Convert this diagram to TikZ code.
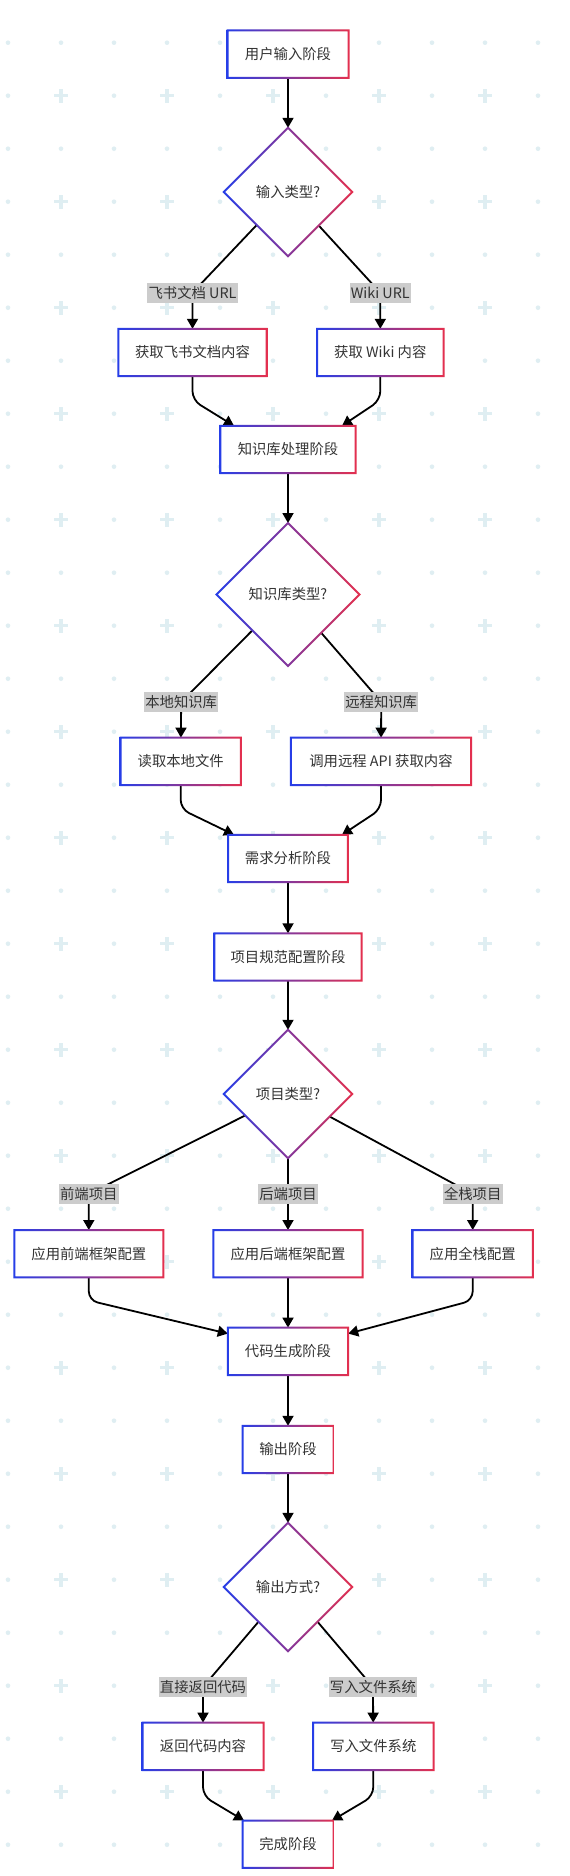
\documentclass[tikz,border=0pt]{standalone}
\usepackage{fontspec}
\setmainfont{Noto Sans CJK SC}
\usetikzlibrary{arrows.meta,shapes.geometric}
\definecolor{gbl}{RGB}{38,62,232}
\definecolor{gbr}{RGB}{228,48,78}
\definecolor{pat}{RGB}{223,238,242}
\definecolor{txt}{RGB}{51,51,51}
\definecolor{lbl}{RGB}{204,204,204}
\pgfdeclarelayer{patlayer}
\pgfdeclarelayer{edgelayer}
\pgfsetlayers{patlayer,edgelayer,main}
\tikzset{
 base/.style={font=\fontsize{14.35}{17}\selectfont, text=txt, text height=12.6pt, text depth=1.7pt},
 stage/.style={base, rectangle, fill=white, minimum height=47pt, inner xsep=8pt, inner ysep=0pt},
 decision/.style={base, diamond, fill=white, inner sep=0pt, minimum size=128pt},
 elabel/.style={base, fill=lbl, inner xsep=1.2pt, inner ysep=0pt, minimum height=20pt},
 arr/.style={line width=1.8pt, draw=black, -{Triangle[length=10pt,width=11pt]}},
 merge/.style={arr, rounded corners=9pt},
}
\newcommand\gradbox[1]{%
  \shade[left color=gbl, right color=gbr, even odd rule]
    ([shift={(-1pt,-1pt)}]#1.south west) rectangle ([shift={(1pt,1pt)}]#1.north east)
    ([shift={(1pt,1pt)}]#1.south west) rectangle ([shift={(-1pt,-1pt)}]#1.north east);}
\newcommand\graddia[1]{%
  \shade[left color=gbl, right color=gbr, even odd rule]
    ([yshift=1.4pt]#1.north) -- ([xshift=1.4pt]#1.east) -- ([yshift=-1.4pt]#1.south) -- ([xshift=-1.4pt]#1.west) -- cycle
    ([yshift=-1.4pt]#1.north) -- ([xshift=-1.4pt]#1.east) -- ([yshift=1.4pt]#1.south) -- ([xshift=1.4pt]#1.west) -- cycle;}
\begin{document}
\begin{tikzpicture}[x=1pt,y=-1pt]
\useasboundingbox (0,0) rectangle (570,1876);
\begin{pgfonlayer}{patlayer}
\fill[white] (0,0) rectangle (570,1876);
\foreach \i in {0,...,10}{
  \foreach \j in {0,...,34}{
    \pgfmathsetmacro\px{8+53*\i}
    \pgfmathsetmacro\py{42.7+53*\j}
    \pgfmathtruncatemacro\odd{mod(\i,2)*mod(\j,2)}
    \ifnum\odd=1
      \fill[pat] (\px-7,\py-1.7) rectangle (\px+7,\py+1.7);
      \fill[pat] (\px-1.7,\py-7) rectangle (\px+1.7,\py+7);
    \else
      \fill[pat] (\px,\py) circle[radius=2.3pt];
    \fi
  }
}
\end{pgfonlayer}

\node[stage, minimum width=120.6pt] (n1) at (288,54.2) {用户输入阶段};
\node[decision] (d1) at (288,192) {输入类型?};
\node[elabel] (l1) at (192.5,292.7) {飞书文档 URL};
\node[elabel] (l2) at (380.3,292.7) {Wiki URL};
\node[stage, minimum width=148pt] (b1) at (192.5,352.5) {获取飞书文档内容};
\node[stage, minimum width=126pt] (b2) at (380.3,352.5) {获取 Wiki 内容};
\node[stage, minimum width=134.7pt] (n2) at (288,449.5) {知识库处理阶段};
\node[decision, minimum size=142.5pt] (d2) at (288,594.5) {知识库类型?};
\node[elabel] (l3) at (181.2,702) {本地知识库};
\node[elabel] (l4) at (381.2,702) {远程知识库};
\node[stage, minimum width=120pt] (b3) at (180.7,761.3) {读取本地文件};
\node[stage, minimum width=180pt] (b4) at (381,761.3) {调用远程 API 获取内容};
\node[stage, minimum width=119.4pt] (n3) at (288,858.5) {需求分析阶段};
\node[stage, minimum width=147pt] (n4) at (288,957) {项目规范配置阶段};
\node[decision] (d3) at (288,1094) {项目类型?};
\node[elabel] (l5) at (88.8,1194) {前端项目};
\node[elabel] (l6) at (288,1194) {后端项目};
\node[elabel] (l7) at (472.7,1194) {全栈项目};
\node[stage, minimum width=148.5pt] (b5) at (88.8,1253.7) {应用前端框架配置};
\node[stage, minimum width=148.7pt] (b6) at (288,1253.7) {应用后端框架配置};
\node[stage, minimum width=120pt] (b7) at (472.7,1253.7) {应用全栈配置};
\node[stage, minimum width=120pt] (n5) at (288,1351.3) {代码生成阶段};
\node[stage, minimum width=90.6pt] (n6) at (288,1449.5) {输出阶段};
\node[decision] (d4) at (288,1587) {输出方式?};
\node[elabel] (l8) at (203,1687) {直接返回代码};
\node[elabel] (l9) at (373,1687) {写入文件系统};
\node[stage, minimum width=120.6pt] (b8) at (203,1746.3) {返回代码内容};
\node[stage, minimum width=120pt] (b9) at (373.3,1746.3) {写入文件系统};
\node[stage, minimum width=90.6pt] (n7) at (288,1844.2) {完成阶段};

\foreach \b in {n1,b1,b2,n2,b3,b4,n3,n4,b5,b6,b7,n5,n6,b8,b9,n7}{\gradbox{\b}}
\foreach \d in {d1,d2,d3,d4}{\graddia{\d}}

\begin{pgfonlayer}{edgelayer}
\draw[arr] (n1) -- (d1);
\draw[arr] (d1) -- (l1.center) -- (b1);
\draw[arr] (d1) -- (l2.center) -- (b2);
\draw[merge] (b1.south) -- ++(0,24) -- ([xshift=-54pt]n2.north);
\draw[merge] (b2.south) -- ++(0,24) -- ([xshift=54pt]n2.north);
\draw[arr] (n2) -- (d2);
\draw[arr] (d2) -- (l3.center) -- (b3);
\draw[arr] (d2) -- (l4.center) -- (b4);
\draw[merge] (b3.south) -- ++(0,24) -- ([xshift=-54pt]n3.north);
\draw[merge] (b4.south) -- ++(0,24) -- ([xshift=54pt]n3.north);
\draw[arr] (n3) -- (n4);
\draw[arr] (n4) -- (d3);
\draw[arr] (d3) -- (l5.center) -- (b5);
\draw[arr] (d3) -- (l6.center) -- (b6);
\draw[arr] (d3) -- (l7.center) -- (b7);
\draw[merge] (b5.south) -- ++(0,23) -- ([yshift=-6pt]n5.north west);
\draw[arr] (b6) -- (n5);
\draw[merge] (b7.south) -- ++(0,23) -- ([yshift=-6pt]n5.north east);
\draw[arr] (n5) -- (n6);
\draw[arr] (n6) -- (d4);
\draw[arr] (d4) -- (l8.center) -- (b8);
\draw[arr] (d4) -- (l9.center) -- (b9);
\draw[merge] (b8.south) -- ++(0,26) -- ([xshift=-44pt]n7.north);
\draw[merge] (b9.south) -- ++(0,26) -- ([xshift=44pt]n7.north);
\end{pgfonlayer}
\end{tikzpicture}
\end{document}
